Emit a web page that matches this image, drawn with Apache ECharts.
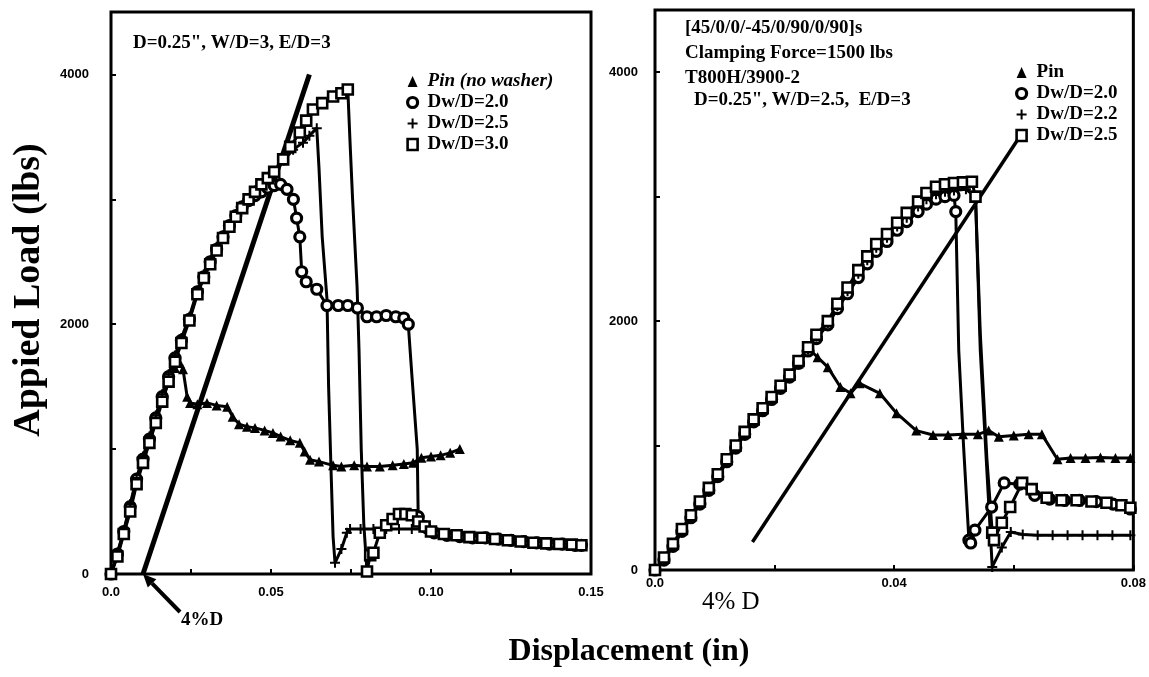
<!DOCTYPE html>
<html><head><meta charset="utf-8">
<script src="https://cdn.jsdelivr.net/npm/echarts@6/dist/echarts.min.js"></script>
<style>html,body{margin:0;padding:0;background:#fff}#c{width:1149px;height:677px}</style>
</head><body><div id="c"></div>
<script>
// ---------- LEFT PANEL DATA: D=0.25", W/D=3, E/D=3 ----------
const leftPin = [[0,0],[0.002,150],[0.004,330],[0.006,520],[0.008,740],[0.010,900],[0.012,1060],[0.014,1230],[0.016,1400],[0.018,1540],[0.020,1650],[0.0215,1690],[0.0225,1640],[0.0238,1420],[0.0247,1370],[0.027,1360],[0.030,1370],[0.033,1350],[0.0363,1340],[0.038,1260],[0.040,1200],[0.0425,1180],[0.045,1170],[0.048,1150],[0.0506,1130],[0.053,1100],[0.056,1070],[0.059,1050],[0.0605,980],[0.0622,915],[0.065,900],[0.0694,870],[0.072,860],[0.076,870],[0.080,860],[0.084,860],[0.088,870],[0.0915,880],[0.0944,890],[0.097,930],[0.100,940],[0.103,950],[0.106,970],[0.109,1000]];
const leftDw20 = [[0,0],[0.002,160],[0.004,340],[0.006,540],[0.008,760],[0.010,920],[0.012,1080],[0.014,1250],[0.016,1420],[0.018,1580],[0.020,1730],[0.022,1870],[0.0245,2040],[0.027,2260],[0.029,2380],[0.031,2500],[0.033,2600],[0.035,2700],[0.037,2790],[0.039,2870],[0.041,2940],[0.043,2990],[0.045,3030],[0.047,3060],[0.049,3090],[0.051,3110],[0.053,3120],[0.055,3080],[0.057,3000],[0.058,2850],[0.059,2700],[0.0596,2420],[0.061,2340],[0.0643,2280],[0.0675,2150],[0.071,2150],[0.074,2150],[0.077,2130],[0.080,2060],[0.083,2060],[0.086,2070],[0.089,2060],[0.0915,2050],[0.0929,2000],[0.094,1600],[0.0957,1000],[0.096,460],[0.098,380],[0.101,330],[0.105,310],[0.109,300],[0.113,290],[0.117,290],[0.121,280],[0.125,270],[0.129,260],[0.133,250],[0.137,240],[0.141,240],[0.145,230],[0.147,230]];
const leftDw25 = [[0,0],[0.002,170],[0.004,350],[0.006,560],[0.008,770],[0.010,940],[0.012,1100],[0.014,1270],[0.016,1440],[0.018,1600],[0.020,1750],[0.022,1890],[0.0245,2060],[0.027,2270],[0.029,2400],[0.031,2510],[0.033,2620],[0.035,2710],[0.037,2800],[0.039,2880],[0.041,2950],[0.043,3010],[0.045,3070],[0.047,3120],[0.049,3170],[0.051,3210],[0.054,3310],[0.0569,3398],[0.060,3454],[0.062,3510],[0.0643,3570],[0.0650,3250],[0.0660,2700],[0.0675,2200],[0.068,1500],[0.0688,800],[0.0694,300],[0.070,90],[0.072,200],[0.0737,330],[0.0747,360],[0.078,360],[0.082,360],[0.086,360],[0.090,360],[0.094,360],[0.098,360],[0.101,340],[0.105,320],[0.109,310],[0.113,300],[0.117,290],[0.121,280],[0.125,275],[0.129,265],[0.133,255],[0.137,245],[0.141,240],[0.145,235],[0.147,230]];
const leftDw30 = [[0,0],[0.002,140],[0.004,320],[0.006,500],[0.008,720],[0.010,890],[0.012,1050],[0.014,1210],[0.016,1380],[0.018,1540],[0.020,1700],[0.022,1850],[0.0245,2030],[0.027,2240],[0.029,2370],[0.031,2480],[0.033,2590],[0.035,2690],[0.037,2780],[0.039,2860],[0.041,2930],[0.043,3000],[0.045,3060],[0.047,3120],[0.049,3170],[0.051,3220],[0.0538,3320],[0.056,3420],[0.059,3535],[0.061,3630],[0.0631,3719],[0.066,3770],[0.0694,3823],[0.072,3850],[0.074,3880],[0.0748,3400],[0.0755,3000],[0.0769,2300],[0.0775,1800],[0.0782,1000],[0.079,400],[0.080,20],[0.081,150],[0.082,170],[0.084,330],[0.086,390],[0.088,440],[0.090,480],[0.092,480],[0.094,470],[0.096,420],[0.098,380],[0.100,340],[0.104,320],[0.108,310],[0.112,295],[0.116,290],[0.120,280],[0.124,270],[0.128,260],[0.132,250],[0.136,245],[0.140,240],[0.144,235],[0.147,230]];
const leftOffset = [[0.01,0],[0.062,4000]];   // 4% D offset line

// ---------- RIGHT PANEL DATA: D=0.25", W/D=2.5, E/D=3 ----------
const rightPin = [[0,0],[0.0015,90],[0.003,200],[0.0045,320],[0.006,430],[0.0075,540],[0.009,650],[0.0105,760],[0.012,880],[0.0135,990],[0.015,1100],[0.0165,1200],[0.018,1290],[0.0195,1380],[0.021,1470],[0.0225,1560],[0.024,1660],[0.0256,1780],[0.0272,1710],[0.0289,1630],[0.031,1470],[0.0327,1420],[0.0342,1500],[0.0376,1420],[0.0404,1260],[0.0437,1120],[0.0465,1085],[0.049,1085],[0.0515,1090],[0.054,1090],[0.0558,1120],[0.0575,1070],[0.060,1080],[0.0625,1090],[0.0647,1090],[0.0673,890],[0.0695,900],[0.072,900],[0.0745,905],[0.077,900],[0.0795,900]];
const rightDw20 = [[0,0],[0.0015,80],[0.003,190],[0.0045,310],[0.006,420],[0.0075,530],[0.009,640],[0.0105,750],[0.012,870],[0.0135,980],[0.015,1090],[0.0165,1190],[0.018,1280],[0.0195,1370],[0.021,1460],[0.0225,1550],[0.024,1660],[0.0256,1760],[0.027,1860],[0.0289,1970],[0.0305,2100],[0.0322,2220],[0.034,2350],[0.0355,2460],[0.037,2560],[0.0388,2640],[0.0405,2730],[0.0421,2800],[0.044,2880],[0.0454,2940],[0.047,2980],[0.0485,3000],[0.0500,3010],[0.0503,2880],[0.0508,1765],[0.0516,1000],[0.0525,240],[0.0528,217],[0.0535,320],[0.0563,506],[0.0584,700],[0.061,690],[0.0635,600],[0.066,570],[0.0685,560],[0.071,560],[0.0738,550],[0.0766,530],[0.0795,490]];
const rightDw22 = [[0,0],[0.0015,85],[0.003,195],[0.0045,315],[0.006,425],[0.0075,535],[0.009,645],[0.0105,755],[0.012,875],[0.0135,985],[0.015,1095],[0.0165,1195],[0.018,1285],[0.0195,1375],[0.021,1465],[0.0225,1555],[0.024,1665],[0.0256,1770],[0.027,1875],[0.0289,1985],[0.0305,2120],[0.0322,2240],[0.034,2380],[0.0355,2490],[0.037,2590],[0.0388,2670],[0.0405,2760],[0.0421,2830],[0.044,2920],[0.0454,2980],[0.047,3020],[0.0485,3040],[0.050,3050],[0.052,3060],[0.0536,3000],[0.0544,1765],[0.0555,800],[0.0564,25],[0.058,180],[0.0595,305],[0.0615,285],[0.064,280],[0.0665,280],[0.069,280],[0.0715,280],[0.074,280],[0.0765,280],[0.0795,280]];
const rightDw25 = [[0,0],[0.0015,100],[0.003,210],[0.0045,330],[0.006,440],[0.0075,550],[0.009,660],[0.0105,770],[0.012,890],[0.0135,1000],[0.015,1110],[0.0165,1210],[0.018,1300],[0.0195,1390],[0.021,1480],[0.0225,1570],[0.024,1680],[0.0256,1790],[0.027,1890],[0.0289,2000],[0.0305,2140],[0.0322,2270],[0.034,2410],[0.0355,2520],[0.037,2620],[0.0388,2700],[0.0405,2790],[0.0421,2870],[0.044,2960],[0.0454,3030],[0.047,3080],[0.0485,3100],[0.050,3110],[0.0515,3115],[0.053,3120],[0.0536,3000],[0.0544,1900],[0.0555,900],[0.0564,300],[0.0567,240],[0.058,380],[0.0594,506],[0.0614,700],[0.063,650],[0.0655,580],[0.068,560],[0.0705,560],[0.073,550],[0.0755,540],[0.078,520],[0.0795,500]];
const rightOffset = [[0.0163,225],[0.0606,3453]];  // 4% D offset line

// ---------- AXIS TICK LABELS ----------
const leftXLabels = ['0.0','0.05','0.10','0.15'];
const rightXLabels = ['0.0','0.04','0.08'];
const yLabels = ['0','2000','4000'];

const PLUS = 'path://M4,0H6V4H10V6H6V10H4V6H0V4H4Z';
const SERIF = '"Liberation Serif","Times New Roman",serif';
const SANS = '"Liberation Sans",Arial,sans-serif';

function steep(a, b) {
  const dx = Math.abs(b[0] - a[0]), dy = Math.abs(b[1] - a[1]);
  return dy > 150 && dy / Math.max(dx, 1e-9) > 300000;
}
function mk(name, data, gi, sym, size, itemStyle) {
  return {
    type: 'line', name, data, xAxisIndex: gi, yAxisIndex: gi,
    symbol: sym, showAllSymbol: true,
    symbolSize: (v, p) => {
      const i = p.dataIndex;
      const a = i > 0 && steep(data[i - 1], data[i]);
      const b = i < data.length - 1 && steep(data[i], data[i + 1]);
      return (a && b) ? 0 : size;
    },
    lineStyle: { color: '#000', width: 3 },
    itemStyle: itemStyle,
    emphasis: { disabled: true },
    animation: false
  };
}
const triStyle = { color: '#000' };
const circStyle = { color: '#fff', borderColor: '#000', borderWidth: 3.2 };
const plusStyle = { color: '#000' };
const rectStyle = { color: '#fff', borderColor: '#000', borderWidth: 2.6 };

function offsetLine(data, gi, w) {
  return { type: 'line', data, xAxisIndex: gi, yAxisIndex: gi, symbol: 'none',
    lineStyle: { color: '#000', width: w }, emphasis: { disabled: true }, animation: false, silent: true };
}

function xFmt(labels, step) {
  return v => {
    const m = Math.round(v * 1000);
    if (m % step !== 0) return '';
    return labels[m / step] || '';
  };
}
const yFmt = v => (v % 2000 === 0 && v <= 4000) ? yLabels[v / 2000] : '';

const axisCommon = {
  type: 'value', axisLine: { show: false }, splitLine: { show: false },
  axisTick: { inside: true, length: 5, lineStyle: { color: '#000', width: 2 } }
};
const labelFont = { color: '#000', fontFamily: SANS, fontSize: 13, fontWeight: 'bold' };

const chart = echarts.init(document.getElementById('c'), null, { renderer: 'canvas' });
const legendText = { fontFamily: SERIF, fontWeight: 'bold', fontSize: 19, color: '#000', lineHeight: 19, padding: [0, 0, 0, 5] };

chart.setOption({
  animation: false,
  backgroundColor: '#fff',
  grid: [
    { left: 111, top: 12, width: 480, height: 562, show: true, borderColor: '#000', borderWidth: 3, backgroundColor: 'transparent' },
    { left: 655, top: 10, width: 485, height: 560, show: true, borderColor: '#000', borderWidth: 3, backgroundColor: 'transparent' }
  ],
  xAxis: [
    Object.assign({}, axisCommon, { gridIndex: 0, min: 0, max: 0.15, interval: 0.025,
      axisLabel: Object.assign({ margin: 12, showMinLabel: true, showMaxLabel: true, formatter: xFmt(leftXLabels, 50) }, labelFont) }),
    Object.assign({}, axisCommon, { gridIndex: 1, min: 0, max: 0.08, interval: 0.02,
      axisLabel: Object.assign({ margin: 7, showMinLabel: true, showMaxLabel: true, formatter: xFmt(rightXLabels, 40) }, labelFont) })
  ],
  yAxis: [
    Object.assign({}, axisCommon, { gridIndex: 0, min: 0, max: 4500, interval: 1000,
      axisLabel: Object.assign({ margin: 22, formatter: yFmt }, labelFont) }),
    Object.assign({}, axisCommon, { gridIndex: 1, min: 0, max: 4500, interval: 1000,
      axisLabel: Object.assign({ margin: 17, formatter: yFmt }, labelFont) })
  ],
  legend: [
    { left: 406, top: 72, orient: 'vertical', itemGap: 2, itemWidth: 10, itemHeight: 11, padding: 0, selectedMode: false,
      textStyle: legendText,
      data: [
        { name: 'Pin (no washer)', icon: 'triangle', itemStyle: triStyle, textStyle: { fontStyle: 'italic' } },
        { name: 'Dw/D=2.0', icon: 'circle', itemStyle: circStyle },
        { name: 'Dw/D=2.5', icon: PLUS, itemStyle: plusStyle },
        { name: 'Dw/D=3.0', icon: 'rect', itemStyle: rectStyle }
      ] },
    { left: 1015, top: 63, orient: 'vertical', itemGap: 2, itemWidth: 10, itemHeight: 11, padding: 0, selectedMode: false,
      textStyle: legendText, formatter: n => n.slice(2),
      data: [
        { name: 'R:Pin', icon: 'triangle', itemStyle: triStyle },
        { name: 'R:Dw/D=2.0', icon: 'circle', itemStyle: circStyle },
        { name: 'R:Dw/D=2.2', icon: PLUS, itemStyle: plusStyle },
        { name: 'R:Dw/D=2.5', icon: 'rect', itemStyle: rectStyle }
      ] }
  ],
  series: [
    offsetLine(leftOffset, 0, 5),
    mk('Pin (no washer)', leftPin, 0, 'triangle', 10, triStyle),
    mk('Dw/D=2.0', leftDw20, 0, 'circle', 10, circStyle),
    mk('Dw/D=2.5', leftDw25, 0, PLUS, 10, plusStyle),
    mk('Dw/D=3.0', leftDw30, 0, 'rect', 10, rectStyle),
    offsetLine(rightOffset, 1, 3.5),
    mk('R:Pin', rightPin, 1, 'triangle', 10, triStyle),
    mk('R:Dw/D=2.0', rightDw20, 1, 'circle', 10, circStyle),
    mk('R:Dw/D=2.2', rightDw22, 1, PLUS, 10, plusStyle),
    mk('R:Dw/D=2.5', rightDw25, 1, 'rect', 10, rectStyle)
  ]
});

// annotations
const tip = chart.convertToPixel({ xAxisIndex: 0, yAxisIndex: 0 }, [0.01, 0]);
const tail = [tip[0] + 37, tip[1] + 38];
const ang = Math.atan2(tip[1] - tail[1], tip[0] - tail[0]);
const hl = 13, hw = 6;
const bx = tip[0] - hl * Math.cos(ang), by = tip[1] - hl * Math.sin(ang);
const head = [[tip[0], tip[1]], [bx + hw * Math.sin(ang), by - hw * Math.cos(ang)], [bx - hw * Math.sin(ang), by + hw * Math.cos(ang)]];

function txt(x, y, text, font, extra) {
  return Object.assign({ type: 'text', x, y, silent: true,
    style: { text, font, fill: '#000', align: 'left', verticalAlign: 'middle' } }, extra || {});
}
const bold19 = 'bold 19px ' + SERIF;
chart.setOption({
  graphic: [
    txt(133, 43, 'D=0.25", W/D=3, E/D=3', bold19),
    txt(685, 28, '[45/0/0/-45/0/90/0/90]s', bold19),
    txt(685, 53, 'Clamping Force=1500 lbs', bold19),
    txt(685, 78, 'T800H/3900-2', bold19),
    txt(694, 100, 'D=0.25", W/D=2.5,  E/D=3', bold19),
    { type: 'line', silent: true, shape: { x1: tail[0], y1: tail[1], x2: bx, y2: by }, style: { stroke: '#000', lineWidth: 4 } },
    { type: 'polygon', silent: true, shape: { points: head }, style: { fill: '#000' } },
    txt(tail[0] + 1, tail[1] + 8, '4%D', 'bold 19px ' + SERIF),
    txt(702, 602, '4% D', '25px ' + SERIF),
    { type: 'text', silent: true, x: 629, y: 652,
      style: { text: 'Displacement (in)', font: 'bold 32px ' + SERIF, fill: '#000', align: 'center', verticalAlign: 'middle' } },
    { type: 'text', silent: true, x: 29, y: 290, rotation: Math.PI / 2,
      style: { text: 'Appied Load (lbs)', font: 'bold 38px ' + SERIF, fill: '#000', align: 'center', verticalAlign: 'middle' } }
  ]
});
</script></body></html>
